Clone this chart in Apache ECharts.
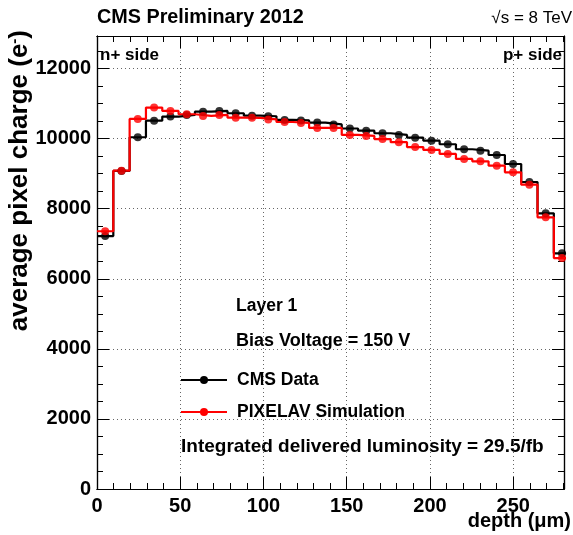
<!DOCTYPE html>
<html><head><meta charset="utf-8">
<script src="https://cdn.jsdelivr.net/npm/echarts@6/dist/echarts.min.js"></script>
<style>html,body{margin:0;padding:0;background:#fff}#c{width:573px;height:535px}</style>
</head><body><div id="c"></div>
<script>
// ---- data ----
const binWidth = 9.8;            // depth bin width (um)
const xRange = [0, 280.5];
const yRange = [0, 12930];
const xMajor = 50, xMinor = 10;
const yMajor = 2000, yMinor = 500;
const cmsData = [7220, 9080, 10040, 10514, 10629, 10677, 10771, 10791, 10725, 10657,
                 10640, 10535, 10520, 10460, 10405, 10290, 10229, 10154, 10106, 10029,
                 9943, 9840, 9697, 9657, 9534, 9277, 8763, 7869, 6726];
const pixelav = [7357, 9086, 10563, 10886, 10791, 10697, 10649, 10677, 10600, 10595,
                 10550, 10475, 10450, 10305, 10305, 10106, 10077, 9988, 9900, 9760,
                 9677, 9563, 9420, 9354, 9229, 9040, 8686, 7754, 6591];
const seriesNames = ['CMS Data', 'PIXELAV Simulation'];
const seriesColors = ['#000000', '#ff0000'];

const FONT = '"Liberation Sans", Arial, Helvetica, sans-serif';

function stepPoints(vals) {
  const pts = [];
  vals.forEach((v, i) => { pts.push([i * binWidth, v]); pts.push([(i + 1) * binWidth, v]); });
  return pts;
}
function centerPoints(vals) { return vals.map((v, i) => [(i + 0.5) * binWidth, v]); }

const chart = echarts.init(document.getElementById('c'), null, {renderer: 'canvas'});

function plain(v) { return String(Math.round(v)); }

function xAx(pos, interval, len, labels, split) {
  return {
    type: 'value', position: pos, min: xRange[0], max: xRange[1], interval: interval,
    axisLine: {show: true, onZero: false, lineStyle: {color: '#000', width: 1.2}},
    axisTick: {show: true, inside: true, length: len, lineStyle: {color: '#000', width: 1}},
    axisLabel: {show: labels, formatter: plain, fontFamily: FONT, fontWeight: 'bold', fontSize: 20, color: '#000', margin: 7, showMaxLabel: false},
    splitLine: {show: split, lineStyle: {color: '#666', type: [1, 3], width: 1}}
  };
}
function yAx(pos, interval, len, labels, split) {
  return {
    type: 'value', position: pos, min: yRange[0], max: yRange[1], interval: interval,
    axisLine: {show: true, onZero: false, lineStyle: {color: '#000', width: 1.2}},
    axisTick: {show: true, inside: true, length: len, lineStyle: {color: '#000', width: 1}},
    axisLabel: {show: labels, formatter: plain, fontFamily: FONT, fontWeight: 'bold', fontSize: 20, color: '#000', margin: 6, showMaxLabel: false},
    splitLine: {show: split, lineStyle: {color: '#666', type: [1, 3], width: 1}}
  };
}

const series = [];
[cmsData, pixelav].forEach((vals, k) => {
  series.push({
    name: seriesNames[k], type: 'line', data: stepPoints(vals), xAxisIndex: 0, yAxisIndex: 0,
    symbol: 'circle', symbolSize: 8, showSymbol: false, clip: true, animation: false,
    lineStyle: {color: seriesColors[k], width: 2.2}, itemStyle: {color: seriesColors[k]}, z: 3 + k
  });
  series.push({
    name: seriesNames[k] + ' points', type: 'scatter', data: centerPoints(vals), xAxisIndex: 0, yAxisIndex: 0,
    symbol: 'circle', symbolSize: 8, animation: false, itemStyle: {color: seriesColors[k]}, z: 5 + k
  });
});

function txt(x, y, text, font, align, extra) {
  return Object.assign({
    type: 'text', x: x, y: y, silent: true,
    style: {text: text, font: font, fill: '#000', align: align, verticalAlign: 'middle',
            textAlign: align, textVerticalAlign: 'middle'}
  }, extra || {});
}

chart.setOption({
  animation: false,
  grid: {left: 97, right: 9, top: 36, bottom: 46, containLabel: false},
  xAxis: [
    xAx('bottom', xMajor, 12, true, true),
    xAx('bottom', xMinor, 6, false, false),
    xAx('top', xMajor, 12, false, false),
    xAx('top', xMinor, 6, false, false)
  ],
  yAxis: [
    yAx('left', yMajor, 12, true, true),
    yAx('left', yMinor, 6, false, false),
    yAx('right', yMajor, 12, false, false),
    yAx('right', yMinor, 6, false, false)
  ],
  legend: {
    orient: 'vertical', left: 175, top: 366, itemWidth: 46, itemHeight: 10, itemGap: 14,
    selectedMode: false, data: seriesNames,
    textStyle: {fontFamily: FONT, fontWeight: 'bold', fontSize: 17.5, color: '#000', padding: [0, 0, 0, 5]}
  },
  series: series,
  graphic: [
    txt(97, 18, 'CMS Preliminary 2012', 'bold 19.8px ' + FONT, 'left'),
    txt(572, 18, '\u221As = 8 TeV', '17px ' + FONT, 'right'),
    txt(100, 55, 'n+ side', 'bold 17px ' + FONT, 'left'),
    txt(562, 55, 'p+ side', 'bold 17px ' + FONT, 'right'),
    txt(236, 306, 'Layer 1', 'bold 17.5px ' + FONT, 'left'),
    txt(236, 341, 'Bias Voltage = 150 V', 'bold 18px ' + FONT, 'left'),
    txt(181, 447, 'Integrated delivered luminosity = 29.5/fb', 'bold 19px ' + FONT, 'left'),
    txt(571, 521, 'depth (\u03BCm)', 'bold 20px ' + FONT, 'right'),
    {
      type: 'text', x: 20, y: 30, rotation: Math.PI / 2, silent: true,
      style: {
        text: '{a|average pixel charge (e}{s|-}{a|)}',
        align: 'right', verticalAlign: 'middle', textAlign: 'right', textVerticalAlign: 'middle',
        rich: {
          a: {font: 'bold 26px ' + FONT, fill: '#000'},
          s: {font: 'bold 15px ' + FONT, fill: '#000', verticalAlign: 'top', padding: [0, 0, 10, 0]}
        }
      }
    }
  ]
});
</script>
</body></html>
